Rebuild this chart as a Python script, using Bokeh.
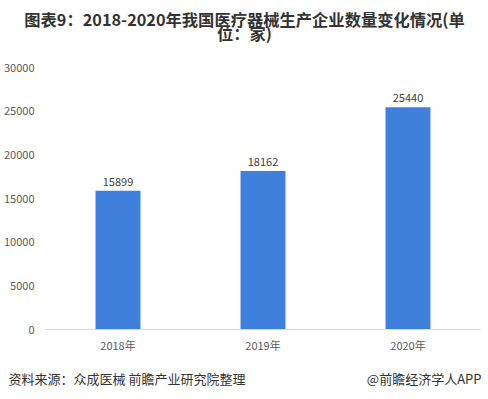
from bokeh.plotting import figure
from bokeh.models import ColumnDataSource, LabelSet, Range1d, FixedTicker
from bokeh.layouts import column
from bokeh.core.properties import value
from bokeh.embed import file_html
from bokeh.resources import INLINE

years = ["2018年", "2019年", "2020年"]
counts = [15899, 18162, 25440]
count_labels = [str(v) for v in counts]
y_ticks = [0, 5000, 10000, 15000, 20000, 25000, 30000]
title_lines = ["图表9：2018-2020年我国医疗器械生产企业数量变化情况(单", "位：家)"]
source_text = "资料来源：众成医械 前瞻产业研究院整理"
brand_text = "@前瞻经济学人APP"

FONT = "Noto Sans CJK SC"
W = 488


def text_panel(h):
    f = figure(width=W, height=h, x_range=Range1d(0, W), y_range=Range1d(0, h),
               output_backend="svg", toolbar_location=None, x_axis_type=None,
               y_axis_type=None, min_border=0)
    f.outline_line_color = None
    f.xgrid.grid_line_color = None
    f.ygrid.grid_line_color = None
    f.frame_align = False
    return f


# header
header = text_panel(45)
header.text(x=[244, 244], y=[26.5, 12.5], text=title_lines, text_align="center",
            text_baseline="middle", text_font_size="16.3px", text_font_style="bold",
            text_color="#333333", text_font=value(FONT))

# main chart
src = ColumnDataSource(dict(x=years, y=counts, t=count_labels))
p = figure(x_range=years, y_range=Range1d(0, 30000), width=W, height=317,
           output_backend="svg", toolbar_location=None,
           min_border_left=44, min_border_right=8, min_border_top=22, min_border_bottom=33)
p.outline_line_color = None
p.xgrid.grid_line_color = None
p.ygrid.grid_line_color = None
p.frame_align = False

p.vbar(x="x", top="y", width=0.31, source=src, color="#3f80dd", line_color=None)

p.add_layout(LabelSet(x="x", y="y", text="t", source=src, text_align="center",
                      text_baseline="bottom", y_offset=5, text_font_size="11px",
                      text_color="#404040", text_font=value(FONT)))

p.yaxis.ticker = FixedTicker(ticks=y_ticks)
p.yaxis.axis_line_color = None
p.yaxis.major_tick_line_color = None
p.yaxis.minor_tick_line_color = None
p.yaxis.major_tick_out = 0
p.yaxis.major_tick_in = 0
p.yaxis.major_label_text_font_size = "11px"
p.yaxis.major_label_text_color = "#595959"
p.yaxis.major_label_text_font = FONT
p.yaxis.major_label_standoff = 11

p.xaxis.axis_line_color = "#d9d9d9"
p.xaxis.major_tick_line_color = None
p.xaxis.minor_tick_line_color = None
p.xaxis.major_tick_out = 0
p.xaxis.major_tick_in = 0
p.xaxis.major_label_text_font_size = "11px"
p.xaxis.major_label_text_color = "#595959"
p.xaxis.major_label_text_font = FONT
p.xaxis.major_label_standoff = 7

# footer
footer = text_panel(37)
footer.text(x=[8], y=[21], text=[source_text], text_align="left", text_baseline="middle",
            text_font_size="13px", text_color="#333333", text_font=value(FONT))
footer.text(x=[481], y=[21], text=[brand_text], text_align="right", text_baseline="middle",
            text_font_size="13px", text_color="#333333", text_font=value(FONT))

layout = column(header, p, footer, spacing=0)
open("out.html", "w").write(file_html(layout, INLINE))
